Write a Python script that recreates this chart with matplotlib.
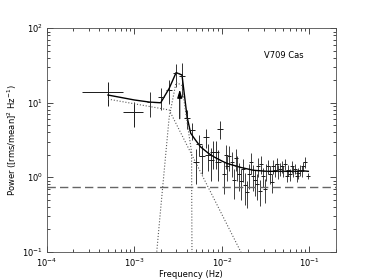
import matplotlib
matplotlib.use("Agg")
import matplotlib.pyplot as plt

# long-segment points (wide frequency bins)
freq_a = [5.0e-4, 1.0e-3]
pow_a = [14.0, 7.4]
perr_a = [4.9, 2.7]
ferr_a = [2.5e-4, 2.5e-4]

# low-frequency points, 5e-4 Hz bins
freq_b = [1.5e-3, 2.0e-3, 2.5e-3, 3.0e-3, 3.5e-3, 4.0e-3, 4.5e-3, 5.0e-3,
          5.5e-3, 6.0e-3, 6.5e-3, 7.0e-3, 7.5e-3, 8.0e-3, 8.5e-3, 9.0e-3, 9.5e-3]
pow_b = [10.2, 11.8, 15.0, 24.8, 23.0, 6.2, 4.3, 1.6,
         2.8, 1.9, 3.5, 2.0, 1.7, 2.2, 2.2, 1.6, 4.5]
perr_b = [3.7, 3.8, 5.3, 8.5, 11.0, 1.7, 1.1, 0.8,
          0.9, 0.8, 1.0, 0.8, 0.8, 0.9, 0.9, 0.7, 1.2]

# high-frequency points
freq_c = [0.0105, 0.0110, 0.0115, 0.0122, 0.0129, 0.0137, 0.0143, 0.0150,
          0.0158, 0.0167, 0.0176, 0.0183, 0.0192, 0.0202, 0.0213, 0.0224,
          0.0237, 0.0249, 0.0261, 0.0272, 0.0282, 0.0295, 0.0308, 0.0322,
          0.0339, 0.0355, 0.0370, 0.0387, 0.0405, 0.0423, 0.0442, 0.0461,
          0.0482, 0.0504, 0.0527, 0.0550, 0.0575, 0.0601, 0.0628, 0.0656,
          0.0685, 0.0716, 0.0748, 0.0782, 0.0817, 0.0854, 0.0892, 0.0970]
pow_c = [1.1, 2.0, 1.4, 1.9, 1.6, 0.91, 1.8, 1.4,
         1.1, 0.9, 1.3, 0.78, 0.64, 1.1, 1.6, 1.05,
         0.91, 0.8, 1.4, 0.66, 1.5, 1.05, 0.7, 1.2,
         1.4, 1.1, 0.86, 1.4, 1.27, 1.5, 1.2, 1.3,
         1.4, 1.2, 1.5, 1.05, 1.25, 1.1, 1.4, 1.2,
         1.3, 1.05, 1.15, 1.25, 1.2, 1.4, 1.6, 1.05]
perr_c = [0.5, 0.7, 0.5, 0.7, 0.6, 0.4, 0.6, 0.5,
          0.45, 0.4, 0.45, 0.35, 0.25, 0.4, 0.5, 0.4,
          0.35, 0.3, 0.4, 0.25, 0.4, 0.3, 0.25, 0.3,
          0.3, 0.3, 0.25, 0.3, 0.25, 0.3, 0.25, 0.25,
          0.25, 0.2, 0.25, 0.2, 0.2, 0.2, 0.25, 0.2,
          0.2, 0.2, 0.2, 0.2, 0.2, 0.2, 0.25, 0.1]

# total model
freq_model = [5.0e-4, 1.0e-3, 1.5e-3, 2.0e-3, 2.5e-3, 3.0e-3, 3.5e-3, 4.0e-3,
              4.4e-3, 5.0e-3, 5.7e-3, 7.0e-3, 8.1e-3, 1.0e-2, 1.15e-2, 1.66e-2,
              2.3e-2, 3.3e-2, 5.0e-2, 7.0e-2, 8.5e-2, 0.097]
pow_model = [12.7, 10.9, 10.2, 10.0, 15.6, 25.4, 23.6, 6.5,
             3.9, 3.15, 2.56, 2.1, 1.88, 1.65, 1.53, 1.35,
             1.24, 1.2, 1.2, 1.2, 1.22, 1.2]

# broken power-law component
freq_bpl = [5.0e-4, 2.5e-3, 2.0e-2]
pow_bpl = [11.2, 8.0, 0.063]

# QPO component
freq_qpo = [1.5e-3, 2.0e-3, 2.5e-3, 3.0e-3, 3.5e-3, 4.0e-3, 4.5e-3, 5.0e-3]
pow_qpo = [0.0093, 0.38, 6.4, 18.9, 17.0, 5.5, 2.2, 1e-12]

noise_level = 0.73
qpo_mark = 3.3e-3

fig = plt.figure(figsize=(3.74, 2.8), dpi=100)
ax = fig.add_axes([0.125, 0.101, 0.773, 0.798])
ax.set_xscale("log")
ax.set_yscale("log")

ax.errorbar(freq_a, pow_a, yerr=perr_a, xerr=ferr_a, fmt="none",
            ecolor="0.1", elinewidth=0.7, capsize=0)
ax.errorbar(freq_b, pow_b, yerr=perr_b, fmt="_", color="0.1",
            ecolor="0.2", elinewidth=0.7, markersize=5, mew=0.7, capsize=0)
ax.errorbar(freq_c, pow_c, yerr=perr_c, fmt="_", color="0.1",
            ecolor="0.25", elinewidth=0.7, markersize=3, mew=0.7, capsize=0)

ax.plot(freq_model, pow_model, color="black", lw=1.0)
ax.plot(freq_bpl, pow_bpl, color="0.35", lw=0.8, ls=":")
ax.plot(freq_qpo, pow_qpo, color="0.35", lw=0.8, ls=":")
ax.axhline(noise_level, color="0.4", lw=1.0, ls=(0, (6, 3)))

ax.annotate("", xy=(qpo_mark, 15.0), xytext=(qpo_mark, 6.1),
            arrowprops=dict(arrowstyle="-|>,head_length=0.6,head_width=0.18",
                            mutation_scale=8, color="black", lw=0.8,
                            shrinkA=0, shrinkB=0))

ax.text(0.051, 43.0, "V709 Cas", fontsize=6, ha="center", va="center")

ax.set_xlim(1e-4, 0.2)
ax.set_ylim(0.1, 100)
ax.set_xlabel("Frequency (Hz)", fontsize=6, labelpad=1)
ax.set_ylabel("Power ([rms/mean]$^2$ Hz$^{-1}$)", fontsize=6, labelpad=2)
ax.tick_params(which="both", direction="in", top=True, right=True,
               labelsize=6, width=0.5)
ax.tick_params(which="major", length=4)
ax.tick_params(axis="x", which="major", pad=3.5)
ax.tick_params(axis="y", which="major", pad=3)
ax.tick_params(which="minor", length=2)
for s in ax.spines.values():
    s.set_linewidth(0.6)
    s.set_color("0.3")

fig.savefig("out.png", dpi=100)
